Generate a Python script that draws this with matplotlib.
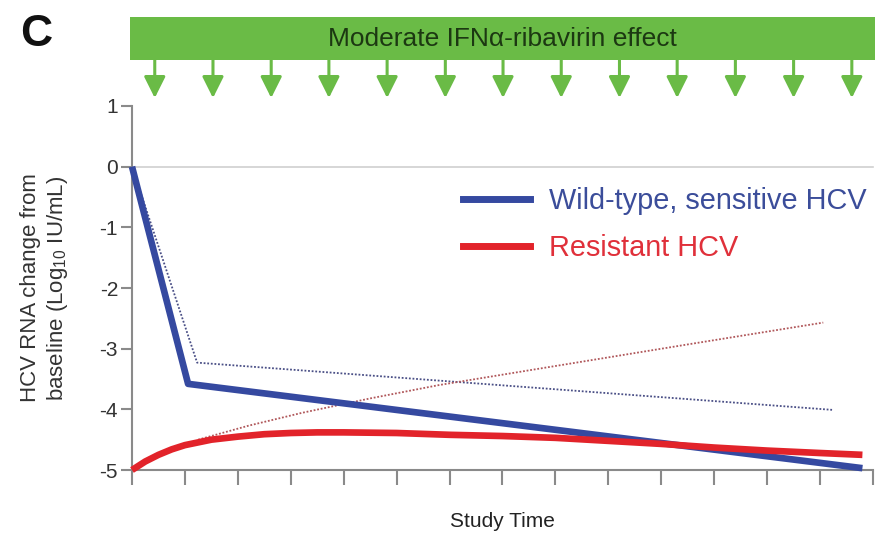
import matplotlib
matplotlib.use("Agg")
import matplotlib.pyplot as plt
from matplotlib.patches import Rectangle
from matplotlib.lines import Line2D

plt.rcParams['font.family'] = ['Liberation Sans', 'DejaVu Sans']
plt.rcParams['mathtext.fontset'] = 'custom'
plt.rcParams['mathtext.rm'] = 'Liberation Sans'
plt.rcParams['mathtext.it'] = 'Liberation Sans:italic'
plt.rcParams['axes.unicode_minus'] = False

# Viral load trajectories (log10 change from baseline vs study time)
wt_x = [0.0, 1.06, 13.8]
wt_y = [0.0, -3.58, -4.97]

wt_ref_x = [0.0, 1.23, 13.25]
wt_ref_y = [0.0, -3.23, -4.01]

res_x = [0.0, 0.25, 0.5, 0.75, 1.0, 1.5, 2.0, 2.5, 3.0, 3.5, 4.0, 5.0, 6.0, 7.0, 8.0, 9.0, 10.0, 11.0, 12.0, 13.0, 13.8]
res_y = [-5.0, -4.86, -4.75, -4.66, -4.59, -4.5, -4.45, -4.41, -4.39, -4.38, -4.38, -4.39, -4.42, -4.44, -4.47, -4.52, -4.57, -4.63, -4.68, -4.72, -4.75]

res_ref_x = [1.25, 2.2, 3.2, 4.5, 5.8, 7.9, 10.5, 13.06]
res_ref_y = [-4.5, -4.27, -4.06, -3.82, -3.6, -3.3, -2.93, -2.57]

# Dosing times of IFN-alpha / ribavirin
dose_x = [0.43, 1.53, 2.63, 3.72, 4.82, 5.92, 7.01, 8.11, 9.21, 10.3, 11.4, 12.5, 13.6]

y_ticks = [1, 0, -1, -2, -3, -4, -5]
x_ticks = list(range(0, 15))

BLUE = '#3549a0'
RED = '#e2232a'
GREEN = '#6abb46'
AXIS_GRAY = '#8a8a8a'

fig = plt.figure(figsize=(8.75, 5.33), dpi=100)
ax = fig.add_axes([132 / 875, 1 - 470 / 533, 741 / 875, 364 / 533])

ax.set_xlim(0, 14)
ax.set_ylim(-5, 1)

# zero reference line
ax.axhline(0, color='#d0d0d0', lw=1.2, zorder=1, clip_on=False)

ax.plot(wt_ref_x, wt_ref_y, color='#4a4f86', lw=1.3, ls=(0, (1.0, 1.0)), zorder=2, clip_on=False)
ax.plot(res_ref_x, res_ref_y, color='#b0575a', lw=1.3, ls=(0, (1.0, 1.0)), zorder=2, clip_on=False)
ax.plot(wt_x, wt_y, color=BLUE, lw=4.8, solid_capstyle='butt', zorder=3, clip_on=False)
ax.plot(res_x, res_y, color=RED, lw=4.8, solid_capstyle='butt', zorder=4, clip_on=False)

for side in ('top', 'right'):
    ax.spines[side].set_visible(False)
for side in ('left', 'bottom'):
    ax.spines[side].set_color(AXIS_GRAY)
    ax.spines[side].set_linewidth(1.5)

ax.set_yticks(y_ticks)
ax.set_yticklabels([str(v) for v in y_ticks])
ax.set_xticks(x_ticks)
ax.set_xticklabels([])
ax.tick_params(axis='y', direction='out', length=8, width=1.5, color=AXIS_GRAY,
               labelsize=15, labelcolor='#333333', pad=2)
ax.tick_params(axis='x', direction='out', length=11, width=1.5, color=AXIS_GRAY)

ax.set_ylabel('HCV RNA change from\nbaseline (Log$_{10}$ IU/mL)', fontsize=16,
              color='#333333', linespacing=1.25, labelpad=21)
ax.set_xlabel('Study Time', fontsize=15, color='#222222', labelpad=16)

# treatment banner and dosing arrows
bt = ax.get_xaxis_transform()
ax.add_patch(Rectangle((-0.04, 1.126), 14.1, 0.118, transform=bt,
                       facecolor=GREEN, edgecolor='none', clip_on=False))
ax.text(7.0, 1.183, 'Moderate IFN\u03b1-ribavirin effect', transform=bt,
        ha='center', va='center', fontsize=19, color='#1c3812')
for xd in dose_x:
    ax.annotate('', xy=(xd, 1.022), xytext=(xd, 1.126), xycoords=bt, textcoords=bt,
                arrowprops=dict(arrowstyle='-|>,head_length=1.3,head_width=0.65',
                                color=GREEN, lw=2.2, shrinkA=0, shrinkB=0),
                annotation_clip=False)

handles = [Line2D([], [], color=BLUE, lw=5), Line2D([], [], color=RED, lw=5)]
leg = ax.legend(handles, ['Wild-type, sensitive HCV', 'Resistant HCV'],
                loc='upper left', bbox_to_anchor=(0.447, 0.778), frameon=False,
                fontsize=20.8, handlelength=2.3, handletextpad=0.67,
                labelspacing=0.68, borderpad=0, borderaxespad=0)
leg.get_texts()[0].set_color('#3b4d9a')
leg.get_texts()[1].set_color('#e0303a')

fig.text(36 / 875, 1 - 34 / 533, 'C', fontsize=32, fontweight='bold',
         ha='center', va='center', color='#111111')

fig.savefig('out.png', dpi=100)
